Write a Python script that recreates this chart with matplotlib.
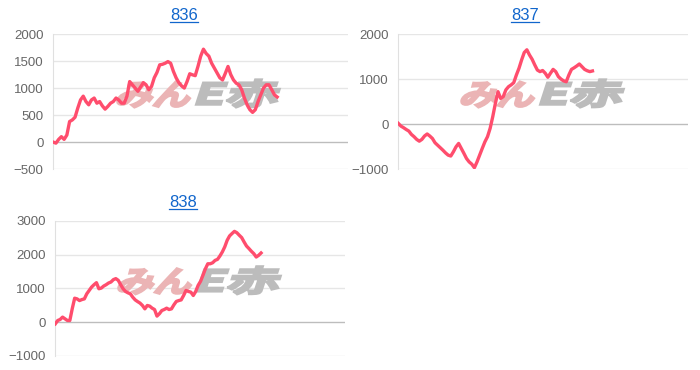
import numpy as np
import matplotlib
matplotlib.use('Agg')
from matplotlib import pyplot as plt
from matplotlib.textpath import TextPath
from matplotlib.patches import PathPatch
from matplotlib.font_manager import FontProperties
from matplotlib.transforms import Affine2D, IdentityTransform
from matplotlib.lines import Line2D

plt.rcParams['font.family'] = ['Liberation Sans', 'DejaVu Sans']

# cumulative balance per machine
titles = ['836', '837', '838']
s836 = [0, -20, 50, 100, 50, 130, 380, 410, 460, 630, 780, 850, 750, 690, 780, 815,
        720, 750, 670, 610, 660, 720, 750, 815, 780, 720, 720, 850, 1120, 1060, 1000,
        940, 1020, 1100, 1060, 970, 1030, 1190, 1290, 1430, 1440, 1460, 1490, 1460,
        1310, 1190, 1100, 1040, 1000, 1120, 1265, 1245, 1230, 1400, 1590, 1720, 1640,
        1590, 1460, 1370, 1280, 1190, 1150, 1270, 1400, 1250, 1150, 1090, 1060, 970,
        815, 690, 600, 550, 600, 750, 875, 1000, 1060, 1060, 970, 875, 835]
s837 = [15, -45, -80, -120, -155, -230, -280, -340, -380, -340, -265, -220, -265,
        -320, -415, -470, -525, -580, -640, -690, -710, -615, -505, -430, -540, -650,
        -765, -840, -890, -970, -840, -690, -540, -395, -280, -95, 165, 460, 720, 570,
        610, 760, 830, 870, 920, 1090, 1240, 1425, 1590, 1650, 1535, 1440, 1315, 1200,
        1165, 1190, 1130, 1040, 1130, 1215, 1165, 1055, 1000, 960, 940, 1090, 1215,
        1250, 1290, 1335, 1275, 1215, 1185, 1165, 1180]
s838 = [-50, 50, 80, 150, 100, 50, 50, 400, 710, 690, 640, 670, 690, 840, 940, 1040,
        1110, 1170, 990, 1010, 1070, 1110, 1160, 1190, 1260, 1290, 1240, 1110, 990, 910,
        870, 840, 740, 660, 610, 565, 495, 395, 495, 475, 415, 375, 180, 250, 345, 375,
        415, 375, 395, 515, 615, 640, 660, 790, 940, 910, 890, 790, 910, 1090, 1210,
        1390, 1580, 1730, 1730, 1760, 1830, 1860, 1960, 2080, 2230, 2425, 2555, 2625,
        2690, 2650, 2575, 2505, 2375, 2255, 2180, 2100, 2030, 1930, 1980, 2050]
series = [s836, s837, s838]
yticks = [np.arange(-500, 2001, 500), np.arange(-1000, 2001, 1000), np.arange(-1000, 3001, 1000)]
fill = [0.76, 0.67, 0.71]  # share of the x range each series covers

rects = [[0.076, 0.543, 0.421, 0.365],
         [0.569, 0.543, 0.414, 0.365],
         [0.079, 0.038, 0.414, 0.365]]
title_pos = [(0.263, 0.957), (0.750, 0.957), (0.261, 0.454)]

W, H = 700, 370
fig = plt.figure(figsize=(7, 3.7), dpi=100)
line_color = '#ff4d6d'
jp = FontProperties(family='Noto Sans CJK JP', weight='bold')


def logo_part(ax, text, x, y, w, h, color):
    tp = TextPath((0, 0), text, prop=jp, size=1)
    e = tp.get_extents()
    tr = (Affine2D().translate(-e.x0, -e.y0).scale(w / e.width, h / e.height)
          .skew_deg(18, 0).translate(x, y))
    patch = PathPatch(tr.transform_path(tp), transform=IdentityTransform(),
                      facecolor=color, edgecolor=color, lw=1.6, zorder=1.5, clip_on=False)
    ax.add_artist(patch)


def watermark(ax):
    p = ax.get_position()
    x0, y0, aw, ah = p.x0 * W, p.y0 * H, p.width * W, p.height * H
    left = x0 + 0.21 * aw
    bottom = y0 + 0.56 * ah
    logo_part(ax, 'みん', left, bottom - 14, 72, 26, '#ebb4b5')
    logo_part(ax, 'E赤', left + 80, bottom - 14, 80, 28, '#bcbcbc')


axes = []
for i, vals in enumerate(series):
    ax = fig.add_axes(rects[i])
    ax.set_facecolor('none')
    x = np.arange(len(vals))
    ax.plot(x, vals, color=line_color, lw=2.4, zorder=3, solid_joinstyle='round')
    ax.set_xlim(0, (len(vals) - 1) / fill[i])
    yt = yticks[i]
    ax.set_ylim(yt[0], yt[-1])
    ax.set_yticks(yt)
    ax.set_xticks([])
    for v in yt:
        ax.axhline(v, color='#bdbdbd' if v == 0 else '#e6e6e6', lw=1, zorder=0)
    for s in ['top', 'right', 'bottom']:
        ax.spines[s].set_visible(False)
    ax.spines['left'].set_color('#e0e0e0')
    ax.tick_params(axis='y', length=0, pad=7, labelsize=9.5, labelcolor='#666666')
    watermark(ax)
    axes.append(ax)

title_texts = []
for t, (tx, ty) in zip(titles, title_pos):
    title_texts.append(fig.text(tx, ty, t, ha='center', va='center', fontsize=12,
                                color='#1166cc'))

# underline the titles like links
fig.canvas.draw()
r = fig.canvas.get_renderer()
for t in title_texts:
    bb = t.get_window_extent(renderer=r)
    fig.add_artist(Line2D([bb.x0, bb.x1], [bb.y0 + 1, bb.y0 + 1], color='#1166cc', lw=0.9,
                          transform=IdentityTransform()))

fig.savefig('out.png', dpi=100)
